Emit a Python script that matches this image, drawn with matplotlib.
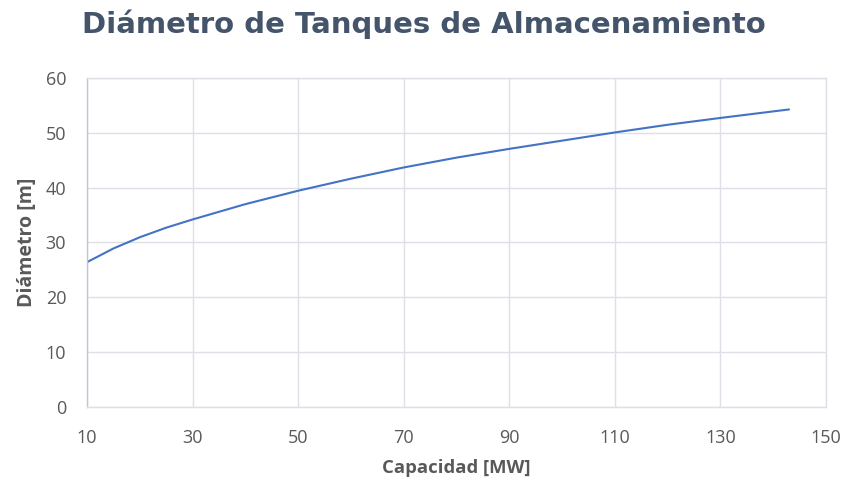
import matplotlib.pyplot as plt

# Capacidad instalada [MW] y diámetro del tanque [m]
capacidad_mw = [10, 15, 20, 25, 30, 40, 50, 60, 70, 80, 90, 100, 110, 120, 130, 143]
diametro_m = [26.4, 28.9, 30.95, 32.7, 34.2, 37.0, 39.45, 41.65, 43.7, 45.5, 47.1, 48.6,
              50.1, 51.5, 52.75, 54.3]

x_ticks = [10, 30, 50, 70, 90, 110, 130, 150]
y_ticks = [0, 10, 20, 30, 40, 50, 60]

TEXT_DARK = "#44546A"
TEXT_GRAY = "#595959"
GRID = "#DDE0E6"
LINE = "#4472C4"

plt.rcParams["font.family"] = ["Open Sans", "DejaVu Sans"]

fig = plt.figure(figsize=(8.47, 4.83), dpi=100)
ax = fig.add_axes([0.1027, 0.158, 0.8725, 0.680])

ax.plot(capacidad_mw, diametro_m, color=LINE, linewidth=1.5,
        solid_capstyle="round", solid_joinstyle="round")

ax.set_xlim(10, 150)
ax.set_ylim(0, 60)
ax.set_xticks(x_ticks)
ax.set_yticks(y_ticks)
ax.grid(True, color=GRID, linewidth=1.0)
ax.set_axisbelow(True)
for spine in ax.spines.values():
    spine.set_color(GRID)
    spine.set_linewidth(1.0)
ax.spines["left"].set_color("#BFC6D4")

ax.tick_params(axis="both", length=0, labelsize=13, labelcolor=TEXT_GRAY)
ax.tick_params(axis="y", pad=15)
ax.tick_params(axis="x", pad=16)

ax.set_xlabel("Capacidad [MW]", fontsize=13.3, fontweight="bold", color=TEXT_GRAY, labelpad=9)
ax.set_ylabel("Diámetro [m]", fontsize=14, fontweight="bold", color=TEXT_GRAY, labelpad=6)

fig.text(0.5, 1 - 33 / 483, "Diámetro de Tanques de Almacenamiento", ha="center",
         va="baseline", fontsize=21, fontweight="bold", color=TEXT_DARK,
         family="DejaVu Sans")

fig.savefig("out.png", dpi=100, facecolor="white")
